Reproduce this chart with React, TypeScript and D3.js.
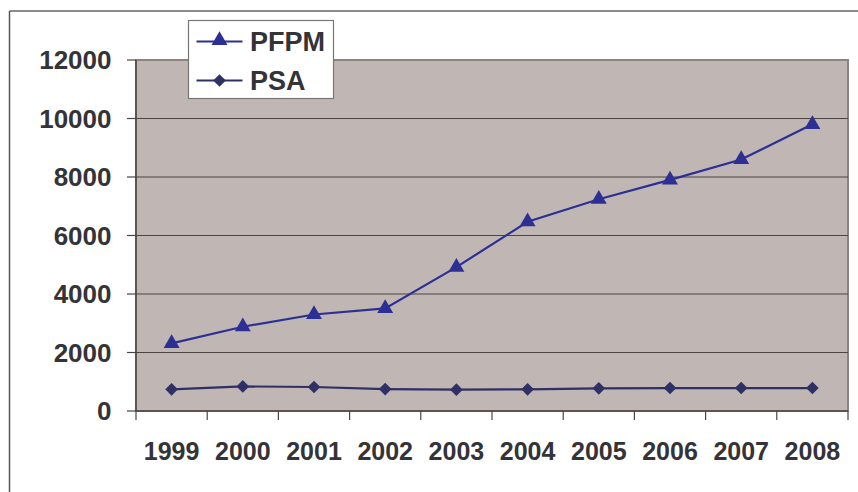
import React from "react";
import * as d3 from "d3";

const years = ["1999", "2000", "2001", "2002", "2003", "2004", "2005", "2006", "2007", "2008"];
const pfpm = [2310, 2880, 3300, 3510, 4920, 6470, 7240, 7900, 8600, 9800];
const psa = [740, 840, 820, 750, 730, 740, 775, 785, 785, 785];
const yTicks = [0, 2000, 4000, 6000, 8000, 10000, 12000];

const W = 858, H = 492;
const plot = { left: 136, right: 848, top: 60, bottom: 411 };
const font = "'Liberation Sans', Arial, Helvetica, sans-serif";
const textColor = "#333338";
const pfpmColor = "#2c3094";
const psaColor = "#2f3066";

export default function App() {
  const x = d3.scaleBand<string>().domain(years).range([plot.left, plot.right]);
  const y = d3.scaleLinear().domain([0, 12000]).range([plot.bottom, plot.top]);
  const cx = (d: string) => (x(d) as number) + x.bandwidth() / 2;
  const line = d3.line<number>().x((_, i) => cx(years[i])).y((v) => y(v));
  const tri = d3.symbol().type(d3.symbolTriangle).size(110)();
  const dia = d3.symbol().type(d3.symbolSquare).size(80)();
  const boundaries = years.map((d) => x(d) as number).concat([plot.right]);

  return (
    <svg width={W} height={H} style={{ position: "absolute", left: 0, top: 0, display: "block" }}>
      <rect x={0} y={0} width={W} height={H} fill="#fff" />
      {/* outer frame */}
      <line x1={9.5} y1={11} x2={9.5} y2={H} stroke="#555" strokeWidth={1.5} />
      <line x1={9.5} y1={11} x2={W} y2={11} stroke="#666" strokeWidth={1.5} />
      {/* plot area */}
      <rect x={plot.left} y={plot.top} width={plot.right - plot.left} height={plot.bottom - plot.top}
        fill="#c0b6b3" stroke="#8c8380" strokeWidth={2} />
      {yTicks.filter((t) => t > 0 && t < 12000).map((t) => (
        <line key={t} x1={plot.left} x2={plot.right} y1={y(t)} y2={y(t)} stroke="#4a4444" strokeWidth={1.2} />
      ))}
      {/* axes */}
      <line x1={plot.left} x2={plot.left} y1={plot.top} y2={plot.bottom} stroke="#4a4444" strokeWidth={1.5} />
      <line x1={plot.left} x2={plot.right} y1={plot.bottom} y2={plot.bottom} stroke="#4a4444" strokeWidth={1.5} />
      {yTicks.map((t) => (
        <g key={t}>
          <line x1={plot.left - 9} x2={plot.left} y1={y(t)} y2={y(t)} stroke="#4a4444" strokeWidth={1.2} />
          <text x={111.5} y={y(t)} dy="0.36em" textAnchor="end" fontFamily={font} fontWeight="bold"
            fontSize={26} fill={textColor}>{t}</text>
        </g>
      ))}
      {boundaries.map((b, i) => (
        <line key={i} x1={b} x2={b} y1={plot.bottom} y2={plot.bottom + 9} stroke="#4a4444" strokeWidth={1.2} />
      ))}
      {years.map((d) => (
        <text key={d} x={cx(d)} y={459.5} textAnchor="middle" fontFamily={font} fontWeight="bold"
          fontSize={25} fill={textColor}>{d}</text>
      ))}
      {/* series */}
      <path d={line(psa) || ""} fill="none" stroke={psaColor} strokeWidth={2.2} />
      {psa.map((v, i) => (
        <path key={i} d={dia || ""} transform={`translate(${cx(years[i])},${y(v)}) rotate(45)`} fill={psaColor} />
      ))}
      <path d={line(pfpm) || ""} fill="none" stroke={pfpmColor} strokeWidth={2.2} />
      {pfpm.map((v, i) => (
        <path key={i} d={tri || ""} transform={`translate(${cx(years[i])},${y(v)})`} fill={pfpmColor} />
      ))}
      {/* legend */}
      <rect x={188.5} y={20.5} width={145} height={78} fill="#fff" stroke="#777" strokeWidth={1.2} />
      <line x1={196.5} x2={242.5} y1={41.5} y2={41.5} stroke={pfpmColor} strokeWidth={2} />
      <path d={tri || ""} transform={`translate(219.5,40.5)`} fill={pfpmColor} />
      <text x={250} y={41.5} dy="0.36em" fontFamily={font} fontWeight="bold" fontSize={27} fill={textColor}>PFPM</text>
      <line x1={196.5} x2={242.5} y1={80.5} y2={80.5} stroke={psaColor} strokeWidth={2} />
      <path d={dia || ""} transform={`translate(219.5,80.5) rotate(45)`} fill={psaColor} />
      <text x={250} y={80.5} dy="0.36em" fontFamily={font} fontWeight="bold" fontSize={27} fill={textColor}>PSA</text>
    </svg>
  );
}
